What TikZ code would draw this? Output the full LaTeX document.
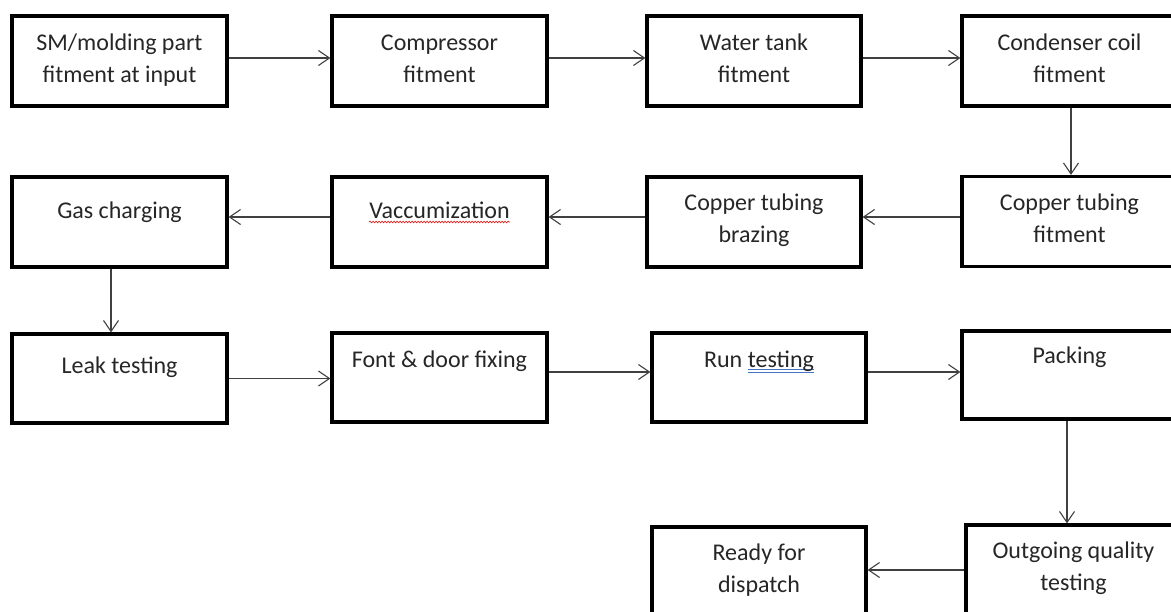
\documentclass[tikz,border=0pt]{standalone}
\usepackage{fontspec}
\setmainfont{Carlito}
\usetikzlibrary{arrows.meta,decorations.pathmorphing}
\definecolor{txtc}{HTML}{262626}
\definecolor{arrc}{HTML}{404040}
\definecolor{ulblue}{HTML}{4472C4}
\definecolor{ulred}{HTML}{E02020}
\newcommand\myDblUl[1]{\setbox0=\hbox{#1}\rlap{\textcolor{ulblue}{\rule[-3pt]{\wd0}{0.7pt}}}\rlap{\textcolor{ulblue}{\rule[-5.5pt]{\wd0}{0.7pt}}}\box0}
\begin{document}
\begin{tikzpicture}[x=1pt,y=-1pt,
 box/.style={draw=black, line width=3.2pt, minimum width=215pt, minimum height=90pt, inner sep=0pt, outer sep=1.6pt},
 txt/.style={font=\fontsize{24}{32}\selectfont, text=txtc, align=center, inner sep=0pt, anchor=base},
 arr/.style={draw=arrc, line width=1.1pt, -{Straight Barb[length=11pt,width=15pt,line width=1.1pt]}}]
\useasboundingbox (0,0) rectangle (1171,611);
\clip (0,0) rectangle (1171,611);
% boxes
\node[box] (b1) at (119.5,61) {};
\node[box] (b2) at (439.5,61) {};
\node[box, minimum width=214pt] (b3) at (754,61) {};
\node[box] (b4) at (1069.5,61) {};
\node[box] (cf) at (1069.5,221.5) {};
\node[box, minimum width=214pt] (cb) at (754,222) {};
\node[box] (vc) at (439.5,222) {};
\node[box] (gc) at (119.5,222) {};
\node[box, minimum height=89pt] (lt) at (119.5,378.5) {};
\node[box, minimum height=89pt] (fd) at (439.5,377.5) {};
\node[box, minimum width=214pt, minimum height=89pt] (rt) at (759,377.5) {};
\node[box, minimum height=88pt] (pk) at (1069.5,375) {};
\node[box, minimum width=214pt] (rd) at (759,572) {};
\node[box] (og) at (1073.5,570) {};
% texts (base = baseline of the last line)
\node[txt] (t1) at (119.5,82) {SM/molding part\\fitment at input};
\node[txt] (t2) at (439.5,82) {Compressor\\fitment};
\node[txt] (t3) at (754,82) {Water tank\\fitment};
\node[txt] (t4) at (1069.5,82) {Condenser coil\\fitment};
\node[txt] (tg) at (119.5,218) {Gas charging};
\node[txt] (tv) at (439.5,218) {Vaccumization};
\node[txt] (tb) at (754,242) {Copper tubing\\brazing};
\node[txt] (tf) at (1069.5,242) {Copper tubing\\fitment};
\node[txt] (tl) at (119.5,373) {Leak testing};
\node[txt] (td) at (439.5,367) {Font \& door fixing};
\node[txt] (tr) at (759,367) {Run \myDblUl{testing}};
\node[txt] (tp) at (1069.5,363) {Packing};
\node[txt] (ty) at (759,592) {Ready for\\dispatch};
\node[txt] (to) at (1073.5,590) {Outgoing quality\\testing};
\draw[ulred, line width=0.7pt, decorate, decoration={snake,amplitude=0.8pt,segment length=3pt}] ([yshift=-4pt]tv.base west) -- ([yshift=-4pt]tv.base east);
% arrows
\draw[arr] ([yshift=3pt]b1.east) -- ([yshift=3pt]b2.west);
\draw[arr] ([yshift=3pt]b2.east) -- ([yshift=3pt]b3.west);
\draw[arr] ([yshift=3pt]b3.east) -- ([yshift=3pt]b4.west);
\draw[arr] ([xshift=1.5pt]b4.south) -- ([xshift=1.5pt]cf.north);
\draw[arr] ([yshift=4.5pt]cf.west) -- ([yshift=4.5pt]cf.west -| cb.east);
\draw[arr] ([yshift=5pt]cb.west) -- ([yshift=5pt]vc.east);
\draw[arr] ([yshift=5pt]vc.west) -- ([yshift=5pt]gc.east);
\draw[arr] ([xshift=-8.5pt]gc.south) -- ([xshift=-8.5pt]gc.south |- lt.north);
\draw[arr] (lt.east) -- (lt.east -| fd.west);
\draw[arr] ([yshift=5.5pt]fd.east) -- ([yshift=5.5pt]rt.west);
\draw[arr] ([yshift=5.5pt]rt.east) -- ([yshift=5.5pt]rt.east -| pk.west);
\draw[arr] ([xshift=-2.5pt]pk.south) -- ([xshift=-2.5pt]pk.south |- og.north);
\draw[arr] (og.west) -- (og.west -| rd.east);
\end{tikzpicture}
\end{document}
